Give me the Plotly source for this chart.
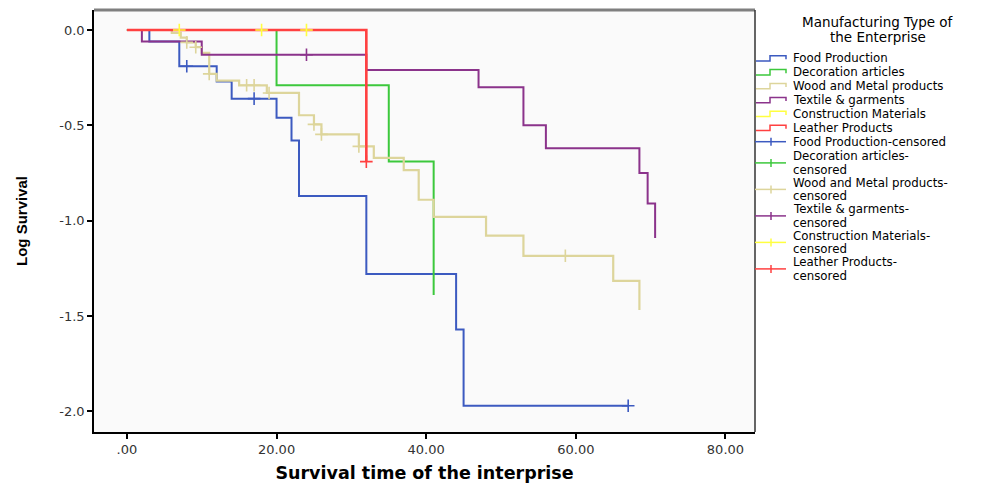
import plotly.graph_objects as go

# ---------------- data ----------------
series_names = ["Food Production", "Decoration articles", "Wood and Metal products",
                "Textile & garments", "Construction Materials", "Leather Products"]
series_colors = ["#3C5AC0", "#3CC83C", "#DDD59B", "#8B338B", "#FFFF40", "#FF4040"]

food_t = [0, 3, 7, 12, 14, 20, 22, 23, 32, 44, 45, 67]
food_y = [0, -0.06, -0.19, -0.27, -0.36, -0.46, -0.58, -0.87, -1.28, -1.57, -1.97, -1.97]
food_cens_t = [8, 17, 67]
food_cens_y = [-0.19, -0.36, -1.97]

deco_t = [0, 20, 35, 41]
deco_y = [0, -0.29, -0.69, -1.39]
deco_cens_t = []
deco_cens_y = []

wood_t = [0, 6, 7.2, 8, 9.2, 10, 11, 12, 15, 18.7, 23, 25, 26, 31, 33, 37, 39, 41, 48, 53, 65, 68.5]
wood_y = [0, -0.015, -0.04, -0.065, -0.09, -0.12, -0.23, -0.265, -0.29, -0.33, -0.447, -0.495,
          -0.547, -0.61, -0.67, -0.735, -0.89, -0.98, -1.078, -1.184, -1.316, -1.468]
wood_cens_t = [8, 9.2, 11, 16, 17, 19, 25, 26, 31, 58.6]
wood_cens_y = [-0.065, -0.09, -0.23, -0.29, -0.29, -0.33, -0.495, -0.547, -0.61, -1.184]

text_t = [0, 2, 10, 32, 47, 53, 56, 68.5, 69.6, 70.6]
text_y = [0, -0.06, -0.13, -0.21, -0.30, -0.50, -0.62, -0.75, -0.91, -1.09]
text_cens_t = [24]
text_cens_y = [-0.13]

cons_t = [0, 24]
cons_y = [0, 0]
cons_cens_t = [7, 18, 24]
cons_cens_y = [0, 0, 0]

leather_t = [0, 32]
leather_y = [0, -0.69]
leather_cens_t = [32]
leather_cens_y = [-0.69]

censored_labels = [["Food Production-censored"],
                   ["Decoration articles-", "censored"],
                   ["Wood and Metal products-", "censored"],
                   ["Textile & garments-", "censored"],
                   ["Construction Materials-", "censored"],
                   ["Leather Products-", "censored"]]
legend_title_lines = ["Manufacturing Type of", "the Enterprise"]

x_tickvals = [0, 20, 40, 60, 80]
x_ticktext = [".00", "20.00", "40.00", "60.00", "80.00"]
y_tickvals = [0, -0.5, -1.0, -1.5, -2.0]
y_ticktext = ["0.0", "-0.5", "-1.0", "-1.5", "-2.0"]

curves = [(food_t, food_y), (deco_t, deco_y), (wood_t, wood_y),
          (text_t, text_y), (cons_t, cons_y), (leather_t, leather_y)]
cens = [(food_cens_t, food_cens_y), (deco_cens_t, deco_cens_y), (wood_cens_t, wood_cens_y),
        (text_cens_t, text_cens_y), (cons_cens_t, cons_cens_y), (leather_cens_t, leather_cens_y)]
line_widths = [2, 2, 2.2, 2, 2, 2.6]

# ---------------- layout geometry ----------------
W_FIG, H_FIG = 1005, 483
L, R, T, B = 94, 755, 10, 432
PW, PH = R - L, B - T


def px(xp):
    return (xp - L) / PW


def py(yp):
    return (B - yp) / PH


fig = go.Figure()

for name, color, lw, (t, y) in zip(series_names, series_colors, line_widths, curves):
    fig.add_trace(go.Scatter(x=t, y=y, mode="lines", line=dict(color=color, width=lw, shape="hv"),
                             name=name, showlegend=False))

for name, color, (t, y) in zip(series_names, series_colors, cens):
    fig.add_trace(go.Scatter(x=t, y=y, mode="markers", name=name + "-censored", showlegend=False,
                             marker=dict(symbol="cross-thin", size=9,
                                         line=dict(color=color, width=1.6), color=color)))

shapes = []
annotations = []

# frame: top (gray, thick) and right
shapes.append(dict(type="line", xref="paper", yref="paper", x0=0, x1=1, y0=1, y1=1,
                   line=dict(color="#7F7F7F", width=3)))
shapes.append(dict(type="line", xref="paper", yref="paper", x0=1, x1=1, y0=0, y1=1,
                   line=dict(color="#333333", width=1.5)))

# ---------------- manual legend ----------------
LEG_FONT = dict(family="DejaVu Sans", size=11.8, color="#000000")
title_y = [21.5, 37.5]
for line, yy in zip(legend_title_lines, title_y):
    annotations.append(dict(text=line, xref="paper", yref="paper", x=px(878), y=py(yy),
                            xanchor="center", yanchor="middle", showarrow=False,
                            font=dict(family="DejaVu Sans", size=13.5, color="#000000")))

sym_x0, sym_x1, text_x = 756, 786, 791
for i, (name, color) in enumerate(zip(series_names, series_colors)):
    yc = 58.3 + 13.9 * i
    path = "M {},{} L {},{} L {},{} L {},{} L {},{}".format(
        px(sym_x0), py(yc + 2.7), px(770), py(yc + 2.7), px(770), py(yc - 2.6),
        px(sym_x1), py(yc - 2.6), px(sym_x1), py(yc + 1))
    shapes.append(dict(type="path", xref="paper", yref="paper", path=path,
                       line=dict(color=color, width=1.5)))
    annotations.append(dict(text=name, xref="paper", yref="paper", x=px(text_x), y=py(yc),
                            xanchor="left", yanchor="middle", showarrow=False, font=LEG_FONT))

ycur = 141.7
for lines, color in zip(censored_labels, series_colors):
    n = len(lines)
    centers = [ycur + 13.8 * k for k in range(n)]
    ysym = sum(centers) / n
    shapes.append(dict(type="line", xref="paper", yref="paper", x0=px(sym_x0 - 1), x1=px(sym_x1),
                       y0=py(ysym), y1=py(ysym), line=dict(color=color, width=1.5)))
    shapes.append(dict(type="line", xref="paper", yref="paper", x0=px(771), x1=px(771),
                       y0=py(ysym - 4), y1=py(ysym + 4), line=dict(color=color, width=1.5)))
    for line, yy in zip(lines, centers):
        annotations.append(dict(text=line, xref="paper", yref="paper", x=px(text_x), y=py(yy),
                                xanchor="left", yanchor="middle", showarrow=False, font=LEG_FONT))
    ycur += 14.3 if n == 1 else 26.5

TICK_FONT = dict(family="DejaVu Sans", size=13, color="#333333")

fig.update_layout(
    width=W_FIG, height=H_FIG,
    margin=dict(l=L, r=W_FIG - R, t=T, b=H_FIG - B, pad=0, autoexpand=False),
    paper_bgcolor="#FFFFFF", plot_bgcolor="#FAFAFA",
    showlegend=False,
    shapes=shapes, annotations=annotations,
    xaxis=dict(range=[-4.4, 83.95], tickvals=x_tickvals, ticktext=x_ticktext, automargin=False,
               ticks="outside", ticklen=5, tickwidth=1.5, tickcolor="#000000",
               showline=True, linecolor="#000000", linewidth=1.5, showgrid=False, zeroline=False,
               tickfont=TICK_FONT,
               title=dict(text="Survival time of the interprise", standoff=10,
                          font=dict(family="DejaVu Sans", size=17.5, weight="bold", color="#000000"))),
    yaxis=dict(range=[-2.108, 0.105], tickvals=y_tickvals, ticktext=y_ticktext, automargin=False,
               ticks="outside", ticklen=5, tickwidth=1.5, tickcolor="#000000",
               showline=True, linecolor="#000000", linewidth=1.5, showgrid=False, zeroline=False,
               tickfont=TICK_FONT,
               title=dict(text="Log Survival", standoff=28,
                          font=dict(family="Liberation Sans", size=15, weight="bold", color="#000000"))),
)

fig.write_html("out.html", config={"displayModeBar": False},
               post_script="document.body.style.margin='0';")
